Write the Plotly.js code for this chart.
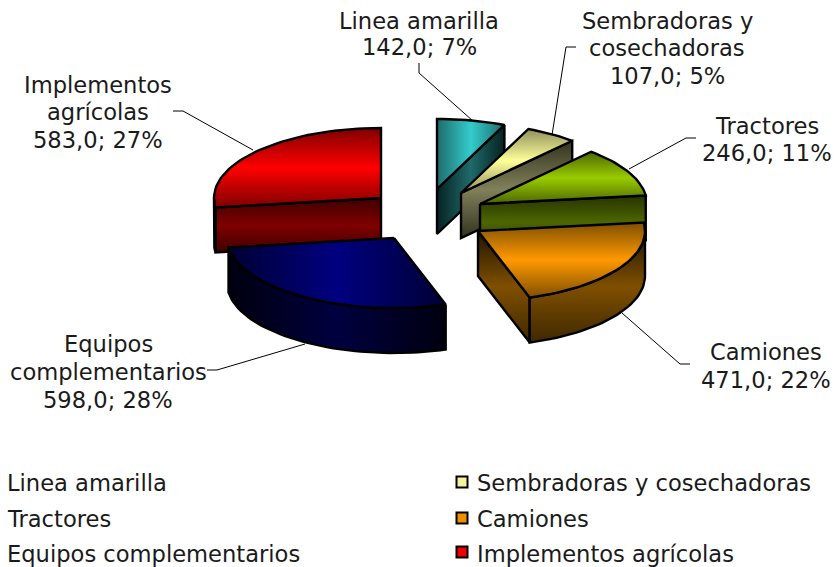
<!DOCTYPE html>
<html><head><meta charset="utf-8">
<script src="https://cdn.plot.ly/plotly-3.0.1.min.js"></script>
<style>html,body{margin:0;padding:0;background:#fff}#c{width:836px;height:567px}</style></head>
<body><div id="c"></div>
<script>
// ---- data ----
var categories = ["Linea amarilla","Sembradoras y cosechadoras","Tractores","Camiones","Equipos complementarios","Implementos agrícolas"];
var values = [142,107,246,471,598,583];
var percents = [7,5,11,22,28,27];
var labelLines = [["Linea amarilla"],["Sembradoras y","cosechadoras"],["Tractores"],["Camiones"],["Equipos","complementarios"],["Implementos","agrícolas"]];

// ---- projection / style ----
var RX=167, RY=70, DEPTH=45;
var apexX=[437,461,480,478,394,381];
var apexY=[189,193,204,231,238,198];
var topGrad=[['h','#1f6a6a','#33cccc','#1f6a6a'],['v','#8f8f5c','#ffff99','#8f8f5c'],['v','#4d6600','#99cc00','#4d6600'],['v','#7f4f00','#ff9900','#7f4f00'],['h','#000033','#000080','#000033'],['v','#7f0000','#ff0000','#7f0000']];
var sideGrad=[['h','#062222','#1f6a6a','#062222'],['v','#33331f','#80805a','#33331f'],['v','#263300','#4d6600','#263300'],['v','#3f2800','#7f4f00','#1f1400'],['h','#00000f','#000040','#00000f'],['v','#3f0000','#7f0000','#3f0000']];
var FONT='"DejaVu Sans", Verdana, sans-serif', FS=22.6, INK='#1a1a1a';
// label placement: centre x of each text block, centre y of each text line
var labelX=[419,667,767,766,108,98];
var labelY=[[21,47],[21,48,76],[126,153],[352,380],[344,372,400],[85,112,140]];
var leaderX=[[419,419,473],[576,566,552],[696,686,629],[690,680,622],[207,217,305],[173,183,253]];
var leaderY=[[63,73,121],[47,47,135],[138,138,169],[364,364,313],[370,370,344],[111,111,150]];
var legendColX=[7,477], legendRowY=[483,519,554], swatchX=462, swatchY=[482,518,552];
var swatchColors=['#f4f49a','#f09000','#f00000'];

var total=values.reduce(function(a,b){return a+b},0);
var traces=[], annotations=[];
function pt(i,deg){var r=deg*Math.PI/180;return [apexX[i]+RX*Math.sin(r),apexY[i]-RY*Math.cos(r)];}
function arc(i,a,b){var p=[],n=Math.max(2,Math.ceil(Math.abs(b-a)/2));for(var k=0;k<=n;k++)p.push(pt(i,a+(b-a)*k/n));return p;}
function grad(g){return {type:g[0]==='h'?'horizontal':'vertical',colorscale:[[0,g[1]],[0.5,g[2]],[1,g[3]]]};}
function poly(p,g){
  var xs=p.map(function(q){return q[0]}),ys=p.map(function(q){return q[1]});
  xs.push(xs[0]);ys.push(ys[0]);
  traces.push({type:'scatter',mode:'lines',x:xs,y:ys,fill:'toself',fillgradient:grad(g),line:{color:'#000',width:2.4},hoverinfo:'skip',showlegend:false});
}
function drop(p){return p.map(function(q){return [q[0],q[1]+DEPTH]}).reverse();}
var start=[],end=[],c=0;
values.forEach(function(v){start.push(c);c+=v/total*360;end.push(c);});
function slice(i){
  var a=start[i],b=end[i],A=[apexX[i],apexY[i]];
  function face(e){poly([A,e,[e[0],e[1]+DEPTH],[A[0],A[1]+DEPTH]],sideGrad[i]);}
  if(b<180) face(pt(i,b));
  if(a>180) face(pt(i,a));
  var lo=Math.max(a,90),hi=Math.min(b,270);
  if(hi>lo){var r=arc(i,lo,hi);poly(r.concat(drop(r)),sideGrad[i]);}
  poly([A].concat(arc(i,a,b)),topGrad[i]);
}
[5,4,0,1,2,3].forEach(slice);

function text(x,y,s,anchor){annotations.push({xref:'x',yref:'y',x:x,y:y,text:s,showarrow:false,xanchor:anchor||'center',yanchor:'middle',font:{family:FONT,size:FS,color:INK},borderpad:0,borderwidth:0});}
categories.forEach(function(cat,i){
  traces.push({type:'scatter',mode:'lines',x:leaderX[i],y:leaderY[i],line:{color:'#000',width:1},hoverinfo:'skip',showlegend:false});
  var lines=labelLines[i].concat([values[i].toFixed(1).replace('.',',')+'; '+percents[i]+'%']);
  lines.forEach(function(s,k){text(labelX[i],labelY[i][k],s);});
  var row=Math.floor(i/2), col=i%2;
  text(legendColX[col],legendRowY[row],cat,'left');
});
traces.push({type:'scatter',mode:'markers',x:swatchY.map(function(){return swatchX}),y:swatchY,marker:{symbol:'square',size:11,color:swatchColors,line:{color:'#000',width:2}},hoverinfo:'skip',showlegend:false});

Plotly.newPlot('c',traces,{
  width:836,height:567,margin:{l:0,r:0,t:0,b:0},paper_bgcolor:'#fff',plot_bgcolor:'#fff',showlegend:false,
  xaxis:{range:[0,836],visible:false,fixedrange:true},
  yaxis:{range:[567,0],visible:false,fixedrange:true},
  annotations:annotations
},{displayModeBar:false,staticPlot:true});
</script>
</body></html>
